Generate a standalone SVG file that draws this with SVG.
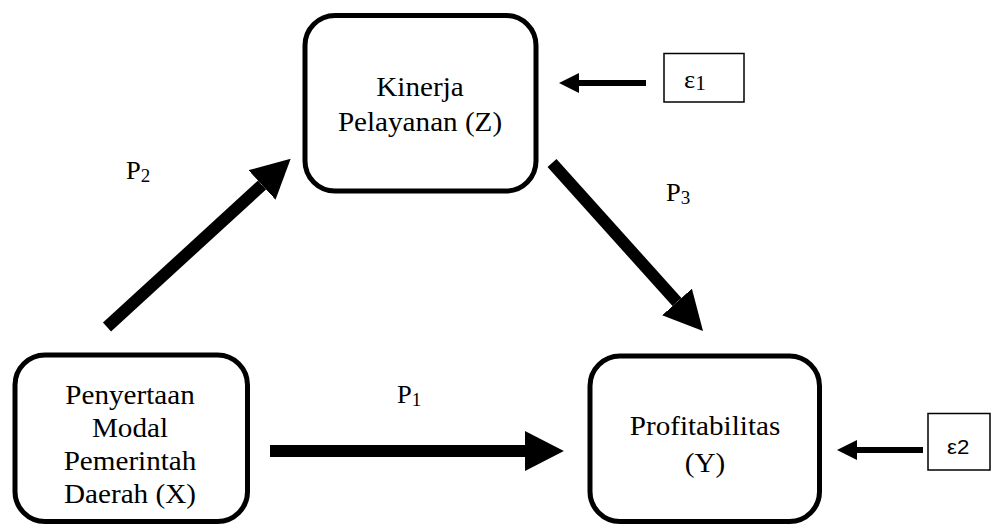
<svg xmlns="http://www.w3.org/2000/svg" width="992" height="528" viewBox="0 0 992 528">
<style>
.node{fill:#fff;stroke:#000;stroke-width:5}
.eps{fill:#fff;stroke:#000;stroke-width:1.5}
.t{font-family:"Liberation Serif","Times New Roman",serif;font-size:27.5px;fill:#000}
.l{font-family:"Liberation Serif","Times New Roman",serif;font-size:25px;fill:#000}
.c{text-anchor:middle}
.sub{font-size:18px}
.s{font-family:"Liberation Sans",Arial,sans-serif;font-size:21px;fill:#000}
.big{stroke:#000;stroke-width:12;fill:none}
.small{stroke:#000;stroke-width:6;fill:none}
</style>
<defs>
<marker id="hb" markerUnits="userSpaceOnUse" markerWidth="40" markerHeight="40" refX="0" refY="18" orient="auto" viewBox="0 0 36 36"><path d="M0,0 L35,18 L0,36 z" fill="#000"/></marker>
<marker id="hs" markerUnits="userSpaceOnUse" markerWidth="20" markerHeight="20" refX="0" refY="9" orient="auto" viewBox="0 0 18 18"><path d="M0,0 L18,9 L0,18 z" fill="#000"/></marker>
</defs>
<rect width="992" height="528" fill="#fff"/>
<g id="connectors">
<line class="big" x1="270" y1="451" x2="525" y2="451" marker-end="url(#hb)"/>
<line class="big" x1="107" y1="327" x2="262" y2="185" marker-end="url(#hb)"/>
<line class="big" x1="552" y1="163" x2="677" y2="302" marker-end="url(#hb)"/>
<line class="small" x1="646" y1="83" x2="579" y2="83" marker-end="url(#hs)"/>
<line class="small" x1="923" y1="450" x2="857" y2="450" marker-end="url(#hs)"/>
</g>
<g id="labels">
<text class="l" transform="translate(126 179) scale(1.06 1)">P<tspan class="sub" dy="3">2</tspan></text>
<text class="l" transform="translate(666 201) scale(1.06 1)">P<tspan class="sub" dy="3">3</tspan></text>
<text class="l" transform="translate(397 403) scale(1.06 1)">P<tspan class="sub" dy="3">1</tspan></text>
</g>
<g id="node-z">
<rect class="node" x="305" y="15.5" width="231" height="175.5" rx="30"/>
<text class="t c" transform="translate(420 95.5) scale(1.06 1)"><tspan x="0">Kinerja</tspan><tspan x="0" dy="36">Pelayanan (Z)</tspan></text>
</g>
<g id="node-x">
<rect class="node" x="15" y="355" width="232.5" height="166.5" rx="30"/>
<text class="t c" transform="translate(130 404) scale(1.06 1)"><tspan x="0">Penyertaan</tspan><tspan x="0" dy="33">Modal</tspan><tspan x="0" dy="33">Pemerintah</tspan><tspan x="0" dy="33.5">Daerah (X)</tspan></text>
</g>
<g id="node-y">
<rect class="node" x="590" y="356" width="229.5" height="165.5" rx="30"/>
<text class="t c" transform="translate(705 435) scale(1.06 1)"><tspan x="0">Profitabilitas</tspan><tspan x="0" dy="37">(Y)</tspan></text>
</g>
<g id="eps1">
<rect class="eps" x="664" y="53.5" width="80" height="48.5"/>
<text class="l" transform="translate(684 88) scale(1.06 1)" font-size="27px">ε<tspan font-size="20px" dy="2">1</tspan></text>
</g>
<g id="eps2">
<rect class="eps" x="928" y="413.5" width="62" height="56.5"/>
<text class="s" transform="translate(947 454) scale(1.06 1)">ε2</text>
</g>
</svg>
